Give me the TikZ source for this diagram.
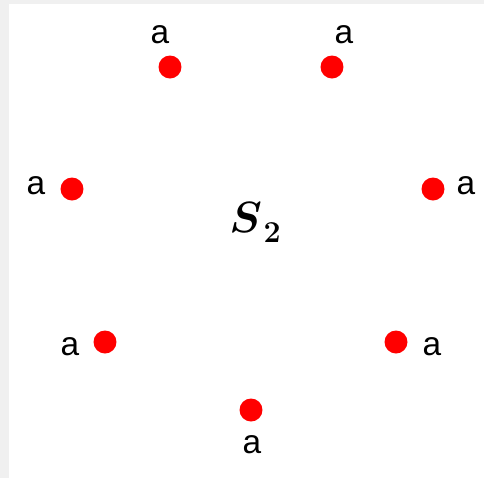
\documentclass[tikz,border=0pt]{standalone}
\usepackage{fontspec}
\usepackage{amsmath,bm}
\setmainfont{Liberation Sans}
\definecolor{edgegray}{HTML}{F0F0F0}
\begin{document}
\begin{tikzpicture}[x=0.02cm, y=-0.02cm,
    dot/.style={circle, fill=red, inner sep=0pt, minimum size=4.6mm},
    lab/.style={font=\fontsize{19}{21}\selectfont, inner sep=0pt}]
    \useasboundingbox (0,0) rectangle (484,478);
    \fill[edgegray] (0,0) rectangle (484,478);
    \fill[white] (9,4) rectangle (484,478);

    \node[dot] (d1) at (170, 67) {};
    \node[dot] (d2) at (332, 67) {};
    \node[dot] (d3) at (72, 189) {};
    \node[dot] (d4) at (433, 189) {};
    \node[dot] (d5) at (105, 342) {};
    \node[dot] (d6) at (396, 342) {};
    \node[dot] (d7) at (251, 410) {};

    \node[lab] (a1) at (160, 35) {a};
    \node[lab] (a2) at (344, 35) {a};
    \node[lab] (a3) at (36, 186) {a};
    \node[lab] (a4) at (466, 186) {a};
    \node[lab] (a5) at (70, 347) {a};
    \node[lab] (a6) at (432, 347) {a};
    \node[lab] (a7) at (252, 445) {a};

    \node[anchor=base west, inner sep=0pt, font=\fontsize{24}{26}\selectfont] (s2) at (229, 232)
        {$\bm{S}$\kern1pt\raisebox{-6pt}{\fontsize{18}{18}\selectfont$\bm{2}$}};
\end{tikzpicture}
\end{document}
